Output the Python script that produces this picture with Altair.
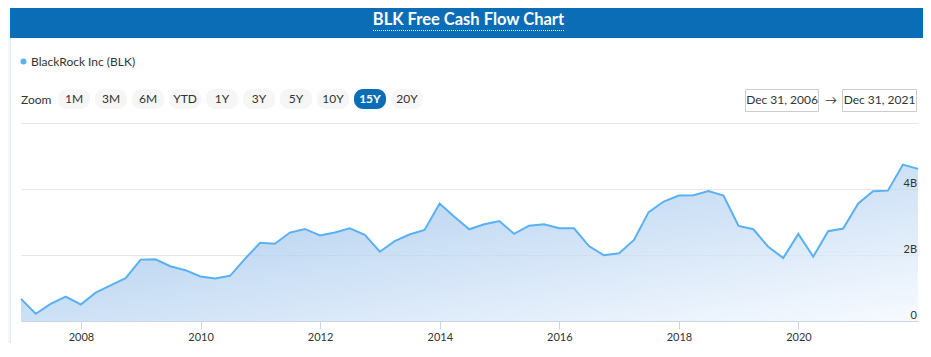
import altair as alt
import pandas as pd

# ---------------- data ----------------
TITLE = "BLK Free Cash Flow Chart"
SERIES_NAME = "BlackRock Inc (BLK)"
ZOOM_LABELS = ["1M", "3M", "6M", "YTD", "1Y", "3Y", "5Y", "10Y", "15Y", "20Y"]
SELECTED_ZOOM = "15Y"
DATE_FROM = "Dec 31, 2006"
DATE_TO = "Dec 31, 2021"
TICK_YEARS = [2008, 2010, 2012, 2014, 2016, 2018, 2020]
Y_TICKS = [0, 2, 4, 6]  # billions
Y_LABELS = ["0", "2B", "4B"]

# quarter-end dates, Dec 2006 .. Dec 2021
QUARTER_DATES = ["2006-12-31"] + [
    f"{y}-{md}" for y in range(2007, 2022) for md in ("03-31", "06-30", "09-30", "12-31")
]
# free cash flow (TTM), billions USD
FCF_B = [
    0.67,
    0.22, 0.52, 0.74, 0.50,
    0.86, 1.08, 1.30, 1.86,
    1.87, 1.66, 1.54, 1.35,
    1.29, 1.37, 1.89, 2.37,
    2.34, 2.68, 2.79, 2.59,
    2.68, 2.81, 2.61, 2.10,
    2.42, 2.62, 2.76, 3.56,
    3.16, 2.78, 2.93, 3.03,
    2.64, 2.89, 2.93, 2.81,
    2.81, 2.27, 1.99, 2.05,
    2.45, 3.30, 3.62, 3.80,
    3.81, 3.94, 3.80, 2.88,
    2.78, 2.25, 1.91, 2.64,
    1.95, 2.72, 2.80, 3.56,
    3.93, 3.95, 4.74, 4.61,
]

# ---------------- styles ----------------
FONT = "Lato"
BLUE = "#0b6db6"
LINE = "#59b0f2"
TXT = "#333333"

df = pd.DataFrame({"date": QUARTER_DATES, "fcf": FCF_B})
ylab_df = pd.DataFrame({"v": Y_TICKS[:len(Y_LABELS)], "lab": Y_LABELS})
one = pd.DataFrame({"k": [0]})


def box(x, x2, y, y2, **kw):
    return alt.Chart(one).mark_rect(**kw).encode(
        x=alt.value(x), x2=alt.value(x2), y=alt.value(y), y2=alt.value(y2)
    )


def label(text, x, y, **kw):
    base = dict(font=FONT, fontSize=12, color=TXT, baseline="middle")
    base.update(kw)
    return alt.Chart(one).mark_text(text=text, **base).encode(
        x=alt.value(x), y=alt.value(y)
    )


def vrule(x, y, y2, **kw):
    return alt.Chart(one).mark_rule(**kw).encode(
        x=alt.value(x), y=alt.value(y), y2=alt.value(y2)
    )


# panel border / header
left_strip = box(-13, -11, -116, 230, color="#f4f8fc")
left_border = vrule(-10.5, -90, 230, color="#e3e7ec", strokeWidth=1)
header = box(-11, 902, -116, -85, color=BLUE)
title = label(TITLE, 447.5, -103, color="white", fontWeight="bold", fontSize=16.5, align="center")
underline = alt.Chart(one).mark_rule(color="white", strokeDash=[1, 1], strokeWidth=1).encode(
    x=alt.value(352), x2=alt.value(543), y=alt.value(-92.5)
)

# legend
legend_dot = alt.Chart(one).mark_point(filled=True, shape="circle", size=36, color=LINE, opacity=1).encode(
    x=alt.value(2.5), y=alt.value(-61.5)
)
legend_txt = label(SERIES_NAME, 10, -61.5, align="left")

# zoom buttons
zoom_txt = label("Zoom", 0, -23, align="left")
btn = alt.Chart(pd.DataFrame({"label": ZOOM_LABELS})).transform_window(
    i="row_number()"
).transform_calculate(
    bx="37 + 37 * (datum.i - 1)",
    bx2="datum.bx + 32",
    cx="datum.bx + 16",
    sel=f"datum.label == '{SELECTED_ZOOM}'",
)
btn_rect = btn.mark_rect(cornerRadius=9).encode(
    x=alt.X("bx:Q", scale=None, axis=None),
    x2="bx2:Q",
    y=alt.value(-34),
    y2=alt.value(-14),
    color=alt.when(alt.datum.sel).then(alt.value(BLUE)).otherwise(alt.value("#f6f6f6")),
)
btn_txt = btn.transform_filter("!datum.sel").mark_text(
    font=FONT, fontSize=12, color=TXT, baseline="middle", align="center"
).encode(x=alt.X("cx:Q", scale=None, axis=None), y=alt.value(-24), text="label:N")
btn_sel_txt = btn.transform_filter("datum.sel").mark_text(
    font=FONT, fontSize=12, color="white", fontWeight="bold", baseline="middle", align="center"
).encode(x=alt.X("cx:Q", scale=None, axis=None), y=alt.value(-24), text="label:N")

# date range boxes
date_box1 = box(724.5, 797.5, -33.5, -11.5, color="white", stroke="#cccccc", strokeWidth=1)
date_box2 = box(821.5, 895.5, -33.5, -11.5, color="white", stroke="#cccccc", strokeWidth=1)
date_txt1 = label(DATE_FROM, 761, -23, align="center")
date_txt2 = label(DATE_TO, 858.5, -23, align="center")
arrow = label("\u2192", 810, -23, align="center")

# main series
xscale = alt.Scale(
    type="utc",
    domain=[alt.DateTime(year=2006, month=12, date=31, utc=True),
            alt.DateTime(year=2021, month=12, date=31, utc=True)],
    nice=False,
)
yscale = alt.Scale(domain=[Y_TICKS[0], Y_TICKS[-1]], nice=False)
xaxis = alt.Axis(
    values=[alt.DateTime(year=y, month=1, date=1, utc=True) for y in TICK_YEARS],
    labelExpr="utcFormat(datum.value, '%Y')",
    grid=False,
    tickSize=8,
    tickColor="#ccd6eb",
    domainColor="#ccd6eb",
    labelPadding=2,
    labelFontSize=11,
    labelColor=TXT,
    labelFont=FONT,
    title=None,
)
yaxis = alt.Axis(
    orient="right",
    values=Y_TICKS,
    grid=True,
    gridColor="#e6e6e6",
    domain=False,
    ticks=False,
    labels=False,
    title=None,
)
gradient = alt.Gradient(
    gradient="linear",
    stops=[alt.GradientStop(color="#83b3e5", offset=0), alt.GradientStop(color="#f5f9ff", offset=1)],
    x1=0, y1=0, x2=1, y2=1,
)
area = alt.Chart(df).mark_area(fill=gradient, fillOpacity=0.75).encode(
    x=alt.X("date:T", scale=xscale, axis=xaxis),
    y=alt.Y("fcf:Q", scale=yscale, axis=yaxis),
)
line = alt.Chart(df).mark_line(color=LINE, strokeWidth=2).encode(
    x=alt.X("date:T"), y=alt.Y("fcf:Q")
)
ylabels = alt.Chart(ylab_df).mark_text(
    font=FONT, fontSize=11, color=TXT, align="right", baseline="alphabetic", dy=-2
).encode(x=alt.value(896), y=alt.Y("v:Q"), text="lab:N")

chart = alt.layer(
    left_strip, left_border, header, title, underline,
    legend_dot, legend_txt, zoom_txt, btn_rect, btn_txt, btn_sel_txt,
    date_box1, date_box2, date_txt1, date_txt2, arrow,
    area, line, ylabels,
).properties(
    width=897,
    height=198,
    autosize=alt.AutoSizeParams(type="none"),
    padding={"left": 13, "top": 115, "right": 5, "bottom": 22},
).configure(background="white").configure_view(stroke="transparent")

chart.save("out.html", embed_options={"renderer": "svg", "actions": False})
